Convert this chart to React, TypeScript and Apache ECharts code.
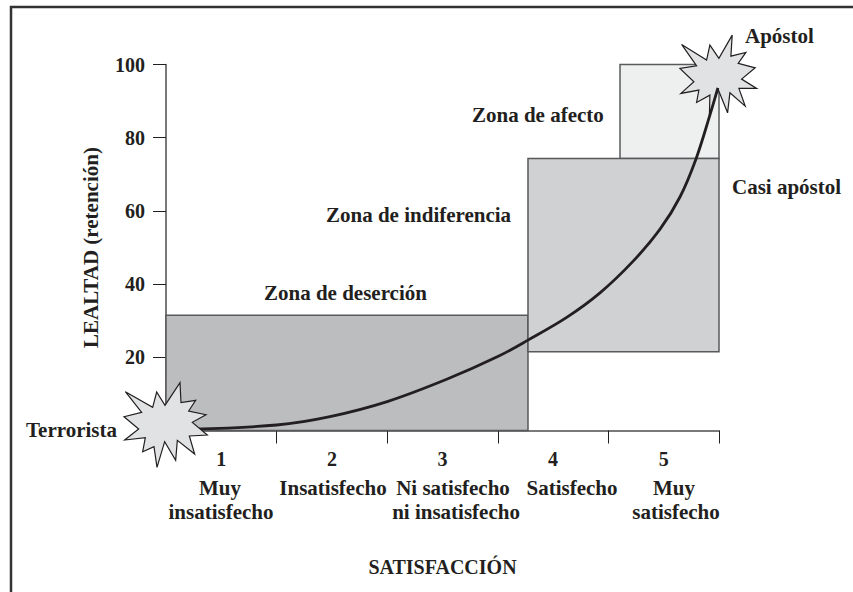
import React, { useEffect, useRef } from "react";
import * as echarts from "echarts";

const levels = ["1", "2", "3", "4", "5"];
const yMax = 100;
const yStep = 20;
const xName = "SATISFACCIÓN";
const yName = "LEALTAD (retención)";

// [x from, x to, y from, y to]
const zoneDesercion = [0, 3.273, 0, 31.5];
const zoneIndiferencia = [3.273, 5, 21.5, 74.3];
const zoneAfecto = [4.105, 5, 74.3, 100];

const curveX = [0.25, 1.0, 1.483, 2.0, 2.538, 3.0, 3.273, 3.623, 3.924, 4.222, 4.467, 4.647, 4.792, 4.919, 4.99];
const curveY = [0.4, 1.5, 3.8, 7.9, 14.0, 20.2, 24.7, 30.9, 37.6, 46.2, 55.0, 63.8, 74.2, 86.3, 93.6];

const terroristaAt = [0, 1.5];
const apostolAt = [4.99, 97.1];

// star outlines in pixels round their centre
const terroristaStar = [
  [376, 185], [458, 232], [470, 186], [495, 226], [540, 158], [543, 218], [587, 211], [566, 243],
  [618, 254], [577, 277], [622, 315], [568, 318], [584, 372], [532, 331], [527, 391], [494, 335],
  [471, 412], [462, 350], [428, 365], [436, 323], [374, 330], [416, 297], [372, 260], [425, 247],
].map(([x, y]) => [(x - 498) / 3, (y - 285) / 3]);

const apostolStar = [
  [681.7, 44.3], [706.7, 60], [710, 45], [719, 58.3], [732.3, 35], [731, 56], [746, 52.3], [738.3, 63.3],
  [755.3, 67.7], [741.7, 79], [756.7, 88.3], [739, 88.3], [745.3, 106], [730, 92.7], [727.7, 112.7], [718.3, 89.3],
  [709.5, 115], [710, 95], [696.7, 102.3], [699, 90], [681, 93.3], [694, 81.7], [680, 68.3], [696.7, 65.7],
].map(([x, y]) => [x - 718, y - 75]);

const INK = "#231f20";
const FAMILY = "Liberation Serif";
const FONT = `bold 21px '${FAMILY}'`;
const labelStyle = { color: INK, fontFamily: FAMILY, fontWeight: "bold" as const, fontSize: 20 };

const notes: [string, number, number, string][] = [
  ["Apóstol", 745, 36, "left"],
  ["Casi apóstol", 732, 187, "left"],
  ["Zona de afecto", 472, 115, "left"],
  ["Zona de indiferencia", 326, 215, "left"],
  ["Zona de deserción", 264, 293, "left"],
  ["Terrorista", 26, 430, "left"],
  ["Muy", 220, 488, "center"],
  ["insatisfecho", 221, 512, "center"],
  ["Insatisfecho", 333, 488, "center"],
  ["Ni satisfecho", 453, 488, "center"],
  ["ni insatisfecho", 456, 512, "center"],
  ["Satisfecho", 572, 488, "center"],
  ["Muy", 674, 488, "center"],
  ["satisfecho", 676, 512, "center"],
];

function zoneSeries(zone: number[], fill: string, z: number) {
  return {
    type: "custom",
    xAxisIndex: 1,
    yAxisIndex: 0,
    z,
    clip: false,
    silent: true,
    data: [zone],
    renderItem: (_: any, api: any) => {
      const a = api.coord([api.value(0), api.value(3)]);
      const b = api.coord([api.value(1), api.value(2)]);
      return {
        type: "rect",
        shape: { x: a[0], y: a[1], width: b[0] - a[0], height: b[1] - a[1] },
        style: { fill, stroke: "#58595b", lineWidth: 1.5 },
      };
    },
  };
}

function starSeries(at: number[], outline: number[][], z: number) {
  return {
    type: "custom",
    xAxisIndex: 1,
    yAxisIndex: 0,
    z,
    clip: false,
    silent: true,
    data: [at],
    renderItem: (_: any, api: any) => {
      const c = api.coord([api.value(0), api.value(1)]);
      return {
        type: "polygon",
        shape: { points: outline.map(([x, y]) => [c[0] + x, c[1] + y]) },
        style: { fill: "#e1e2e4", stroke: "#231f20", lineWidth: 1.2 },
      };
    },
  };
}

export default function App() {
  const ref = useRef<HTMLDivElement>(null);
  useEffect(() => {
    const chart = echarts.init(ref.current!, undefined, { renderer: "svg" });
    const axisLine = { show: true, lineStyle: { color: "#4d4d4f", width: 1.5 } };
    const axisTick = { show: true, length: 13, lineStyle: { color: "#231f20", width: 1 } };
    chart.setOption({
      animation: false,
      backgroundColor: "#fff",
      grid: { left: 166, right: 134, top: 64.5, bottom: 161.5 },
      xAxis: [
        {
          type: "category",
          data: levels,
          boundaryGap: true,
          axisLine,
          axisTick: { ...axisTick, alignWithLabel: false, interval: 0 },
          axisLabel: { ...labelStyle, margin: 18, interval: 0 },
          name: xName,
          nameLocation: "middle",
          nameGap: 126,
          nameTextStyle: labelStyle,
        },
        { type: "value", min: 0, max: 5, show: false },
      ],
      yAxis: {
        type: "value",
        min: 0,
        max: yMax,
        interval: yStep,
        splitLine: { show: false },
        axisLine,
        axisTick,
        axisLabel: { ...labelStyle, margin: 21, formatter: (v: number) => (v === 0 ? "" : String(v)) },
        name: yName,
        nameLocation: "middle",
        nameRotate: 90,
        nameGap: 65,
        nameTextStyle: { ...labelStyle, fontSize: 21 },
      },
      graphic: [
        {
          type: "polyline",
          z: 1,
          shape: { points: [[11, 592], [11, 7], [853, 7]] },
          style: { stroke: "#333", lineWidth: 2.5, fill: "none" },
        },
        ...notes.map(([text, x, y, align]) => ({
          type: "text",
          x,
          y,
          z: 20,
          style: { text, font: FONT, fill: INK, textAlign: align, textVerticalAlign: "middle" },
        })),
      ],
      series: [
        zoneSeries(zoneDesercion, "#bcbdbf", 3),
        zoneSeries(zoneAfecto, "#eef0f0", 3),
        zoneSeries(zoneIndiferencia, "#d0d1d3", 4),
        starSeries(apostolAt, apostolStar, 5),
        {
          type: "line",
          xAxisIndex: 1,
          yAxisIndex: 0,
          z: 6,
          clip: false,
          smooth: 0.35,
          symbol: "none",
          lineStyle: { color: "#231f20", width: 2.8 },
          data: curveX.map((x, i) => [x, curveY[i]]),
        },
        starSeries(terroristaAt, terroristaStar, 7),
      ],
    });
    return () => chart.dispose();
  }, []);
  return <div ref={ref} style={{ position: "fixed", left: 0, top: 0, width: 853, height: 592 }} />;
}
